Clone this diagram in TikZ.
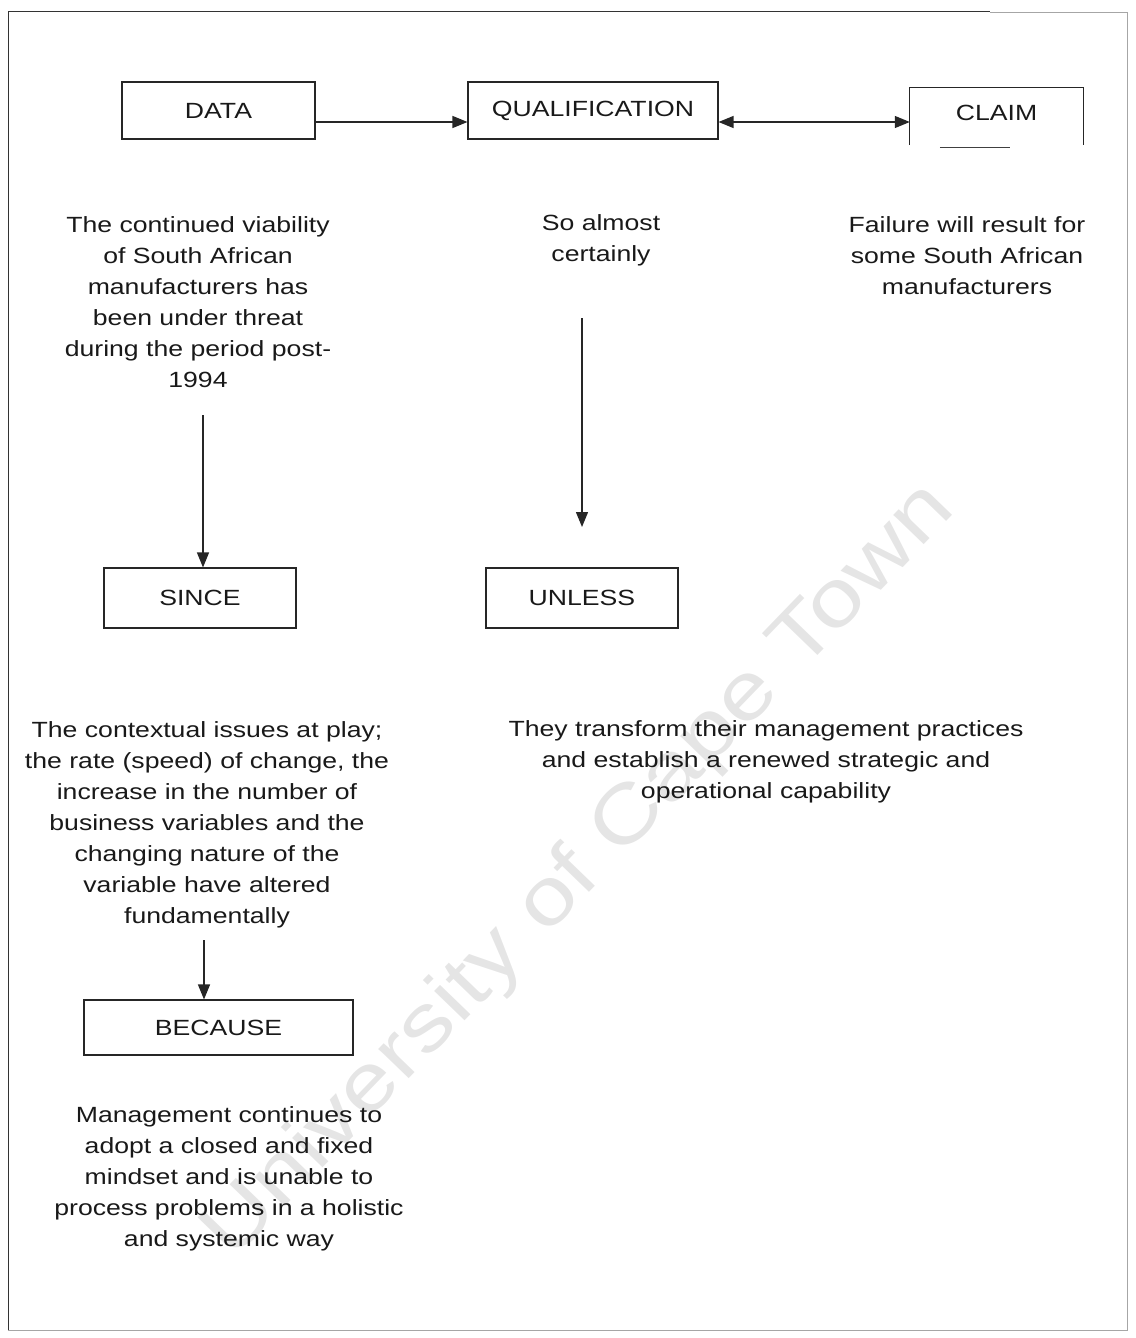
\documentclass[tikz,border=0pt]{standalone}
\usepackage{fontspec}
\setmainfont[FakeStretch=1.21]{Liberation Sans}
\usetikzlibrary{arrows.meta}
\begin{document}
\begin{tikzpicture}[x=1pt,y=-1pt,
  every node/.style={font=\fontsize{22}{31}\selectfont, text=black!90},
  boxlabel/.style={draw=black!85, line width=1.1pt, minimum height=57pt, inner sep=0pt},
  bodytext/.style={align=center, inner sep=0pt},
  arr/.style={draw=black!85, line width=1.3pt, -{Triangle[length=15pt,width=12pt]}},
  darr/.style={draw=black!85, line width=1.3pt, {Triangle[length=15pt,width=12pt]}-{Triangle[length=15pt,width=12pt]}},
  frameline/.style={draw=black!80, line width=1pt}]
\useasboundingbox (0,0) rectangle (1135,1338);
% frame
\draw[frameline] (8,1330) -- (8,12) -- (990,12);
\draw[draw=black!35, line width=0.8pt] (990,12) -- (1127,12) -- (1127,1330) -- (8,1330);
% watermark
\node[rotate=46, text=black!10, font=\fontsize{80}{90}\selectfont] (wm) at (580,872) {University of Cape Town};
% top boxes
\node[boxlabel, minimum width=193pt] (data) at (218.5,110.5) {DATA};
\node[boxlabel, minimum width=250pt] (qual) at (593,110.5) {QUALIFICATION};
\node[minimum width=173pt, minimum height=57pt, inner sep=0pt] (claim) at (996.5,116.5) {};
\node (claimtext) at (996.5,113) {CLAIM};
\draw[draw=black!85, line width=1.1pt] (claim.south west) -- (claim.north west) -- (claim.north east) -- (claim.south east);
\draw[draw=black!75, line width=1pt] ([xshift=30pt,yshift=-2pt]claim.south west) -- ([xshift=100pt,yshift=-2pt]claim.south west);
\draw[arr] (data.east |- 0,122) -- (qual.west |- 0,122);
\draw[darr] (qual.east |- 0,122) -- (claim.west |- 0,122);
% texts under top boxes
\node[bodytext] (t1) at (198,302) {The continued viability\\of South African\\manufacturers has\\been under threat\\during the period post-\\1994};
\node[bodytext] (t2) at (601,240) {So almost\\certainly};
\node[bodytext] (t3) at (967,256) {Failure will result for\\some South African\\manufacturers};
% middle boxes
\node[boxlabel, minimum width=192pt, minimum height=60pt] (since) at (200,598) {SINCE};
\node[boxlabel, minimum width=192pt, minimum height=60pt] (unless) at (582,598) {UNLESS};
\coordinate (q1) at (203,415);
\draw[arr] (q1) -- (q1 |- since.north);
\coordinate (q2) at (582,318);
\coordinate (q3) at (582,527);
\draw[arr] (q2) -- (q3);
% middle texts
\node[bodytext] (t4) at (207,825) {The contextual issues at play;\\the rate (speed) of change, the\\increase in the number of\\business variables and the\\changing nature of the\\variable have altered\\fundamentally};
\node[bodytext] (t5) at (766,762) {They transform their management practices\\and establish a renewed strategic and\\operational capability};
% because
\node[boxlabel, minimum width=269pt, minimum height=55pt] (because) at (218.5,1027.5) {BECAUSE};
\coordinate (q4) at (204,940);
\draw[arr] (q4) -- (q4 |- because.north);
\node[bodytext] (t6) at (229,1179) {Management continues to\\adopt a closed and fixed\\mindset and is unable to\\process problems in a holistic\\and systemic way};
\end{tikzpicture}
\end{document}
